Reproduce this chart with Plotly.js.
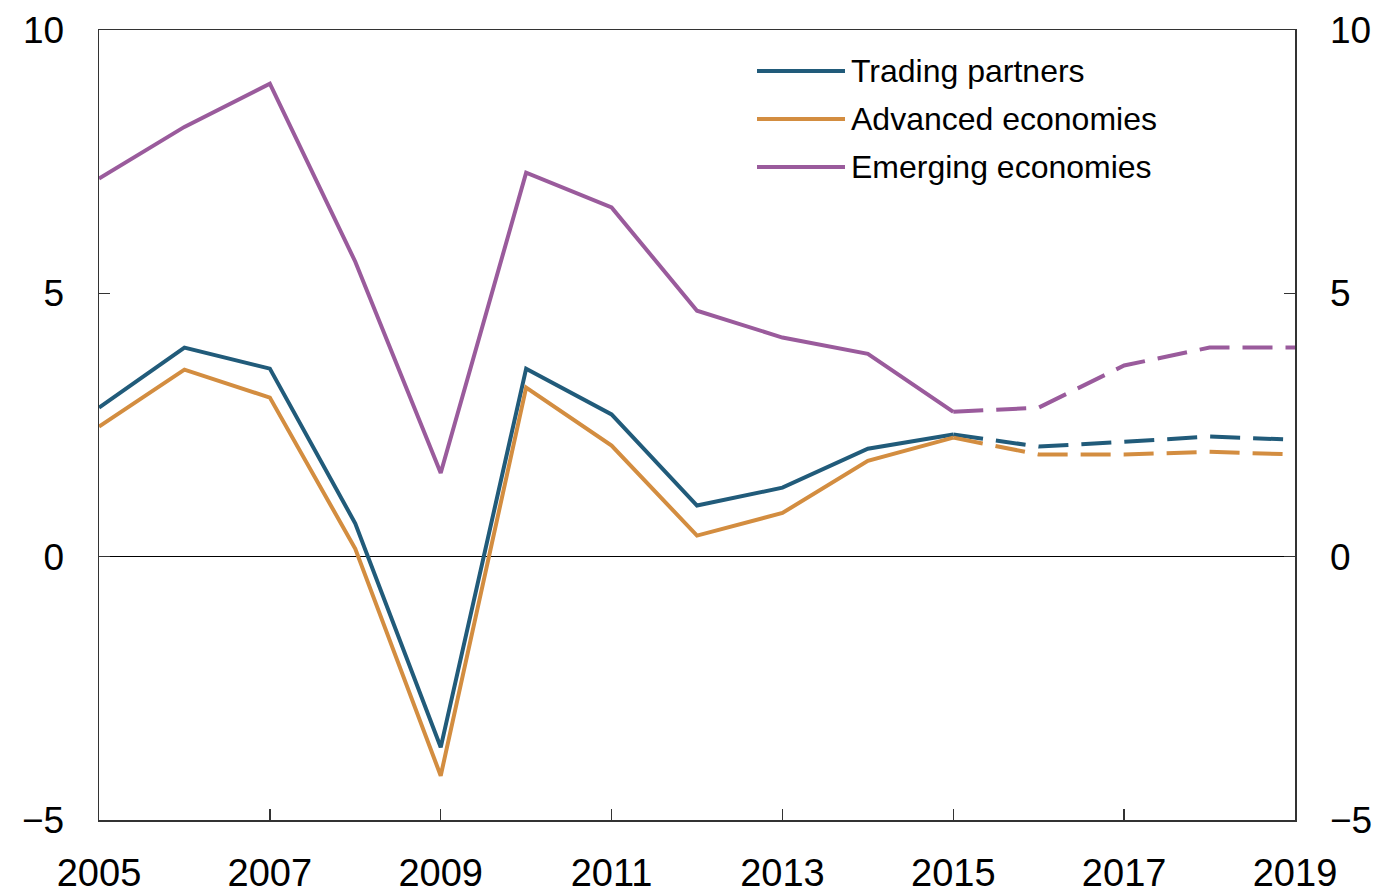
<!DOCTYPE html>
<html>
<head>
<meta charset="utf-8">
<script src="https://cdn.plot.ly/plotly-3.0.1.min.js"></script>
<style>html,body{margin:0;padding:0;background:#fff;}#chart{width:1383px;height:896px;}</style>
</head>
<body>
<div id="chart"></div>
<script>
// Data
var years = [2005,2006,2007,2008,2009,2010,2011,2012,2013,2014,2015,2016,2017,2018,2019];
var tradingPartners = [2.83,3.97,3.57,0.63,-3.62,3.57,2.70,0.97,1.31,2.05,2.32,2.09,2.18,2.28,2.22];
var advancedEconomies = [2.47,3.55,3.02,0.15,-4.16,3.21,2.11,0.40,0.83,1.82,2.26,1.94,1.94,1.99,1.94];
var emergingEconomies = [7.18,8.16,8.98,5.60,1.59,7.29,6.63,4.67,4.16,3.85,2.75,2.83,3.63,3.97,3.97];
var seriesNames = ["Trading partners","Advanced economies","Emerging economies"];
var xTickVals = [2005,2007,2009,2011,2013,2015,2017,2019];
var yTickVals = [-5,0,5,10];
var forecastStart = 2015;

var colors = ["#215b7a","#d38d40","#9a5b9c"];
var allSeries = [tradingPartners, advancedEconomies, emergingEconomies];
var split = years.indexOf(forecastStart);

var traces = [];
allSeries.forEach(function(s, i){
  traces.push({
    x: years.slice(0, split+1), y: s.slice(0, split+1),
    type: 'scatter', mode: 'lines', name: seriesNames[i], showlegend: false,
    line: {color: colors[i], width: 4, dash: 'solid'}, xaxis: 'x', yaxis: 'y'
  });
  traces.push({
    x: years.slice(split), y: s.slice(split),
    type: 'scatter', mode: 'lines', name: seriesNames[i] + ' (projection)', showlegend: false,
    line: {color: colors[i], width: 4, dash: '30px,13px'}, xaxis: 'x', yaxis: 'y2'
  });
});

var font = 'Liberation Sans, Arial, Helvetica, sans-serif';
var W = 1383, L = 99, R = 88, T = 30, B = 76;
var pw = W - L - R, ph = 896 - T - B;
function px2x(p){ return (p - L) / pw; }
function py2y(p){ return (896 - B - p) / ph; }

var legendY = [71, 119, 167];
var shapes = [], annotations = [];
seriesNames.forEach(function(n, i){
  shapes.push({type:'line', xref:'paper', yref:'paper',
    x0: px2x(757), x1: px2x(845), y0: py2y(legendY[i]), y1: py2y(legendY[i]),
    line:{color: colors[i], width: 4}});
  annotations.push({xref:'paper', yref:'paper', x: px2x(849), y: py2y(legendY[i]),
    xanchor:'left', yanchor:'middle', text: n, showarrow:false,
    font:{family: font, size: 32, color:'#000'}});
});

var layout = {
  width: W, height: 896,
  margin: {l: L, r: R, t: T, b: B, pad: 0},
  paper_bgcolor: '#fff', plot_bgcolor: '#fff',
  font: {family: font, color: '#000'},
  showlegend: false,
  xaxis: {
    range: [2005, 2019], tickmode: 'array', tickvals: xTickVals,
    ticks: 'inside', ticklen: 11, tickwidth: 1.5, tickcolor: '#333',
    showline: true, linecolor: '#333', linewidth: 1.5, mirror: true,
    showgrid: false, zeroline: false,
    tickfont: {family: font, size: 38, color: '#000'}, ticklabelstandoff: 19
  },
  yaxis: {
    range: [-5, 10], tickmode: 'array', tickvals: yTickVals,
    ticks: 'inside', ticklen: 11, tickwidth: 1.5, tickcolor: '#333',
    showline: true, linecolor: '#333', linewidth: 1.5, mirror: true,
    showgrid: false, zeroline: true, zerolinecolor: '#000', zerolinewidth: 1.5,
    tickfont: {family: font, size: 37, color: '#000'}, ticklabelstandoff: 26
  },
  yaxis2: {
    range: [-5, 10], overlaying: 'y', side: 'right', tickmode: 'array', tickvals: yTickVals,
    ticks: 'inside', ticklen: 11, tickwidth: 1.5, tickcolor: '#333',
    showline: true, linecolor: '#333', linewidth: 1.5,
    showgrid: false, zeroline: false,
    tickfont: {family: font, size: 37, color: '#000'}, ticklabelstandoff: 26
  },
  shapes: shapes,
  annotations: annotations
};

Plotly.newPlot('chart', traces, layout, {staticPlot: true, displayModeBar: false});
</script>
</body>
</html>
